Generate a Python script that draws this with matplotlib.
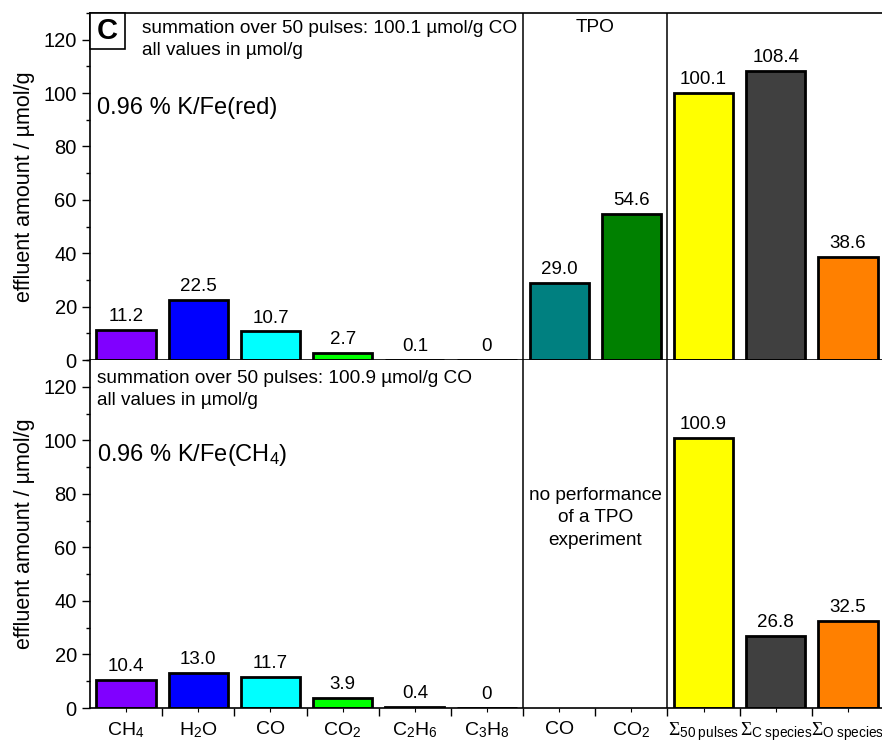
import numpy as np
import matplotlib
matplotlib.use("Agg")
import matplotlib.pyplot as plt
from matplotlib.patches import Rectangle
from matplotlib.ticker import MultipleLocator, FixedLocator

plt.rcParams["font.family"] = ["Liberation Sans", "DejaVu Sans"]
# serif Sigma, subscripts stay in the text font via \mathregular
plt.rcParams["mathtext.fontset"] = "custom"
plt.rcParams["mathtext.rm"] = "Liberation Serif"
plt.rcParams["mathtext.it"] = "Liberation Serif:italic"

categories = [r"CH$_\mathregular{4}$", r"H$_\mathregular{2}$O", "CO", r"CO$_\mathregular{2}$",
              r"C$_\mathregular{2}$H$_\mathregular{6}$", r"C$_\mathregular{3}$H$_\mathregular{8}$",
              "CO", r"CO$_\mathregular{2}$",
              r"$\Sigma_\mathregular{50\ pulses}$",
              r"$\Sigma_\mathregular{C\ species}$",
              r"$\Sigma_\mathregular{O\ species}$"]
bar_colors = ["#8000FF", "#0000FF", "#00FFFF", "#00FF00", "#800000", "#FF00FF",
              "#008080", "#008000", "#FFFF00", "#404040", "#FF8000"]

# pulse experiment, TPO, sums (None = not measured)
red_values = [11.2, 22.5, 10.7, 2.7, 0.1, 0, 29.0, 54.6, 100.1, 108.4, 38.6]
ch4_values = [10.4, 13.0, 11.7, 3.9, 0.4, 0, None, None, 100.9, 26.8, 32.5]

panels = [
    dict(values=red_values, co_sum="100.1", sample="0.96 % K/Fe(red)"),
    dict(values=ch4_values, co_sum="100.9", sample=r"0.96 % K/Fe(CH$_\mathregular{4}$)"),
]

fig = plt.figure(figsize=(8.82, 7.42), dpi=100)
W, H = 882, 742
x_left, x_right = 90, 884
rows = [(13, 360), (360, 708)]
x = np.arange(len(categories))

axes = []
for (ytop, ybot) in rows:
    ax = fig.add_axes([x_left / W, 1 - ybot / H, (x_right - x_left) / W, (ybot - ytop) / H])
    axes.append(ax)

for i, (ax, p) in enumerate(zip(axes, panels)):
    vals = p["values"]
    for xi, v, c in zip(x, vals, bar_colors):
        if v is None:
            continue
        ax.bar(xi, v, width=0.82, color=c, edgecolor="black", linewidth=2, zorder=2)
        lab = "0" if v == 0 else f"{v:.1f}"
        ax.annotate(lab, (xi, v), xytext=(0, 3.5), textcoords="offset points",
                    ha="center", va="bottom", fontsize=13.5)

    ax.set_xlim(-0.5, 10.5)
    ax.set_ylim(0, 130)
    ax.yaxis.set_major_locator(MultipleLocator(20))
    ax.yaxis.set_minor_locator(MultipleLocator(10))
    ax.tick_params(axis="y", which="major", direction="out", length=6, width=1, labelsize=14.5)
    ax.tick_params(axis="y", which="minor", direction="out", length=3, width=1)

    ax.xaxis.set_major_locator(FixedLocator(x))
    ax.xaxis.set_minor_locator(FixedLocator(x[:-1] + 0.5))
    ax.tick_params(axis="x", which="major", direction="out", length=3, width=0.8)
    ax.tick_params(axis="x", which="minor", direction="out", length=6, width=1)

    ax.spines["right"].set_visible(False)
    for s in ax.spines.values():
        s.set_linewidth(1.2)

    for xs in (5.5, 7.5):
        ax.axvline(xs, color="black", linewidth=1.1, zorder=3)

    ax.set_ylabel("effluent amount / µmol/g", fontsize=15.5, labelpad=6)

    ax.text(0.065 if i == 0 else 0.009, 0.98 if i == 0 else 0.972,
            f"summation over 50 pulses: {p['co_sum']} µmol/g CO\nall values in µmol/g",
            transform=ax.transAxes, ha="left", va="top", fontsize=13.7, linespacing=1.4)
    ax.text(0.009, 0.727, p["sample"], transform=ax.transAxes,
            ha="left", va="center", fontsize=17)

axes[0].set_xticklabels([])
axes[0].spines["bottom"].set_zorder(4)
axes[1].spines["top"].set_visible(False)
axes[1].set_xticklabels(categories, fontsize=14)
axes[1].tick_params(axis="x", which="major", pad=6)

axes[0].text(6.5, 124.5, "TPO", ha="center", va="center", fontsize=13.7)
axes[1].text(6.5, 71, "no performance\nof a TPO\nexperiment", ha="center", va="center",
             fontsize=13.7, linespacing=1.45)

# panel letter in a framed box at the top-left corner
ax_w = x_right - x_left
ax_h = rows[0][1] - rows[0][0]
bw, bh = 35 / ax_w, 36 / ax_h
axes[0].add_patch(Rectangle((0, 1 - bh), bw, bh, transform=axes[0].transAxes,
                            facecolor="white", edgecolor="black", linewidth=1.2,
                            zorder=5, clip_on=False))
axes[0].text(bw / 2, 1 - bh / 2, "C", transform=axes[0].transAxes, ha="center", va="center",
             fontsize=21, fontweight="bold", zorder=6)

fig.savefig("out.png", dpi=100)
